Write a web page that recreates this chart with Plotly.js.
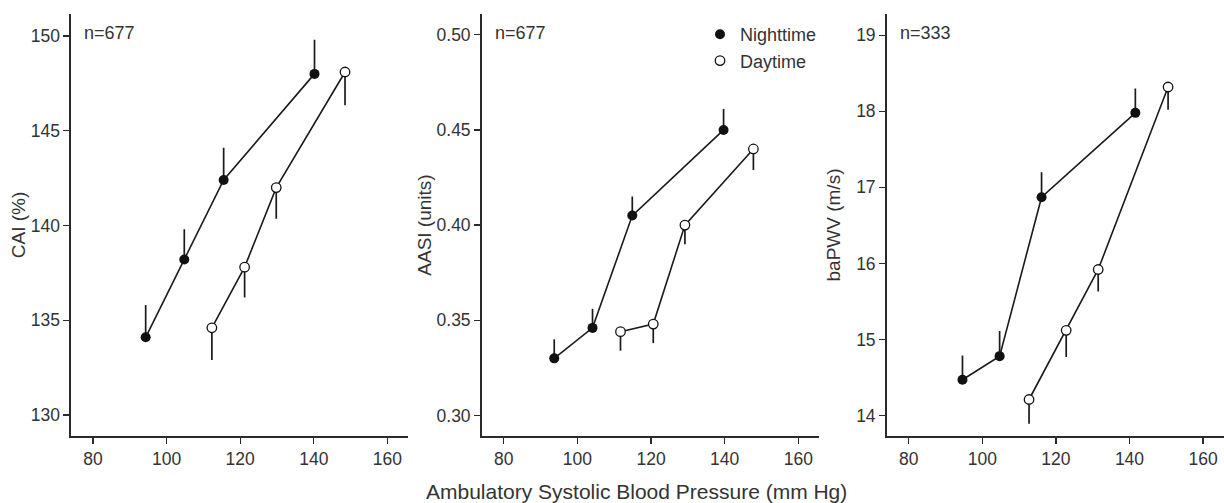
<!DOCTYPE html>
<html>
<head>
<meta charset="utf-8">
<script src="https://cdn.plot.ly/plotly-3.0.1.min.js"></script>
<style>html,body{margin:0;padding:0;background:#fff;}#chart{width:1224px;height:503px;}</style>
</head>
<body>
<div id="chart"></div>
<script>
// ---- data ----
const seriesNames = ["Nighttime", "Daytime"];
const panelYTitles = ["CAI (%)", "AASI (units)", "baPWV (m/s)"];
const panelNotes = ["n=677", "n=677", "n=333"];
const xTickVals = [80, 100, 120, 140, 160];

// CAI
const caiNightX = [94.3, 104.8, 115.5, 140.2];
const caiNightY = [134.1, 138.2, 142.4, 148.0];
const caiNightErr = [1.7, 1.6, 1.7, 1.8];
const caiDayX = [112.3, 121.2, 129.8, 148.5];
const caiDayY = [134.6, 137.8, 142.0, 148.1];
const caiDayErr = [1.7, 1.6, 1.65, 1.75];

// AASI
const aasiNightX = [93.7, 104.1, 114.9, 139.7];
const aasiNightY = [0.330, 0.346, 0.405, 0.450];
const aasiNightErr = [0.010, 0.010, 0.010, 0.011];
const aasiDayX = [111.7, 120.6, 129.2, 147.8];
const aasiDayY = [0.344, 0.348, 0.400, 0.440];
const aasiDayErr = [0.010, 0.010, 0.010, 0.011];

// baPWV
const pwvNightX = [94.6, 104.7, 116.1, 141.6];
const pwvNightY = [14.47, 14.78, 16.87, 17.98];
const pwvNightErr = [0.32, 0.33, 0.33, 0.32];
const pwvDayX = [112.7, 122.8, 131.5, 150.5];
const pwvDayY = [14.21, 15.12, 15.92, 18.32];
const pwvDayErr = [0.32, 0.35, 0.29, 0.30];

const caiTicks = [130, 135, 140, 145, 150];
const aasiTicks = [0.30, 0.35, 0.40, 0.45, 0.50];
const pwvTicks = [14, 15, 16, 17, 18, 19];

// ---- styling ----
const FONT = "Liberation Sans, Arial, sans-serif";
const TXT = "#333333";
const zeros = n => new Array(n).fill(0);

const panels = [
  {night: [caiNightX, caiNightY, caiNightErr], day: [caiDayX, caiDayY, caiDayErr]},
  {night: [aasiNightX, aasiNightY, aasiNightErr], day: [aasiDayX, aasiDayY, aasiDayErr]},
  {night: [pwvNightX, pwvNightY, pwvNightErr], day: [pwvDayX, pwvDayY, pwvDayErr]}
];

const traces = [];
panels.forEach((p, i) => {
  const xa = i === 0 ? "x" : "x" + (i + 1);
  const ya = i === 0 ? "y" : "y" + (i + 1);
  ["night", "day"].forEach(key => {
    const [X, Y] = p[key];
    traces.push({
      type: "scatter", mode: "lines", x: X, y: Y, xaxis: xa, yaxis: ya,
      line: {color: "#1a1a1a", width: 1.6}, showlegend: false, hoverinfo: "skip"
    });
  });
  [["night", true, 0], ["day", false, 1]].forEach(([key, filled, k]) => {
    const [X, Y, E] = p[key];
    traces.push({
      type: "scatter", mode: "markers", x: X, y: Y, xaxis: xa, yaxis: ya,
      name: seriesNames[k],
      showlegend: i === 1,
      marker: {
        size: filled ? 10 : 9.5, color: filled ? "#111111" : "#ffffff", symbol: "circle",
        line: {color: "#111111", width: filled ? 0 : 1.3}
      },
      error_y: {
        type: "data", symmetric: false,
        array: filled ? E : zeros(E.length),
        arrayminus: filled ? zeros(E.length) : E,
        width: 0, thickness: 1.7, color: "#1a1a1a"
      }
    });
  });
});

const yDomain = [1 - 436 / 503, 1 - 14 / 503];
const xDomains = [[71 / 1224, 408.3 / 1224], [481.7 / 1224, 819.3 / 1224], [886.7 / 1224, 1]];
const yRanges = [[128.89, 151.16], [0.2892, 0.5109], [13.73, 19.28]];
const yTicks = [caiTicks, aasiTicks, pwvTicks];
const yFormats = ["", ".2f", ""];
const yStandoffs = [0, 0, 10];

const baseAxis = {
  showgrid: false, zeroline: false, showline: true, linecolor: "#2a2a2a", linewidth: 1.6,
  ticks: "outside", ticklen: 6, tickwidth: 1.3, tickcolor: "#2a2a2a",
  tickfont: {family: FONT, size: 17.5, color: TXT}, fixedrange: true
};

const layout = {
  width: 1224, height: 503,
  margin: {l: 0, r: 0, t: 0, b: 0},
  paper_bgcolor: "#ffffff", plot_bgcolor: "#ffffff",
  font: {family: FONT, color: TXT},
  showlegend: true,
  legend: {
    x: 700 / 1224, xanchor: "left", y: 1 - 16 / 503, yanchor: "top",
    font: {family: FONT, size: 18, color: TXT}, bgcolor: "rgba(0,0,0,0)",
    borderwidth: 0, tracegroupgap: 0
  },
  annotations: []
};

for (let i = 0; i < 3; i++) {
  const sfx = i === 0 ? "" : String(i + 1);
  layout["xaxis" + sfx] = Object.assign({}, baseAxis, {
    domain: xDomains[i], range: [74, 165.7], tickvals: xTickVals,
    anchor: "y" + sfx, ticklabelstandoff: 0
  });
  layout["yaxis" + sfx] = Object.assign({}, baseAxis, {
    domain: yDomain, range: yRanges[i], tickvals: yTicks[i], tickformat: yFormats[i],
    anchor: "x" + sfx, ticklabelstandoff: 0,
    title: {text: panelYTitles[i], font: {family: FONT, size: 19, color: TXT}, standoff: yStandoffs[i]}
  });
  layout.annotations.push({
    xref: "x" + sfx + " domain", yref: "paper",
    x: 11 / 337, y: 1 - 33 / 503, xanchor: "left", yanchor: "middle",
    text: panelNotes[i], showarrow: false,
    font: {family: FONT, size: 18, color: TXT}
  });
}

layout.annotations.push({
  xref: "paper", yref: "paper", x: 636.5 / 1224, y: 1 - 491 / 503,
  xanchor: "center", yanchor: "middle", showarrow: false,
  text: "Ambulatory Systolic Blood Pressure (mm Hg)",
  font: {family: FONT, size: 21, color: TXT}
});

Plotly.newPlot("chart", traces, layout, {displayModeBar: false, staticPlot: true});
</script>
</body>
</html>
